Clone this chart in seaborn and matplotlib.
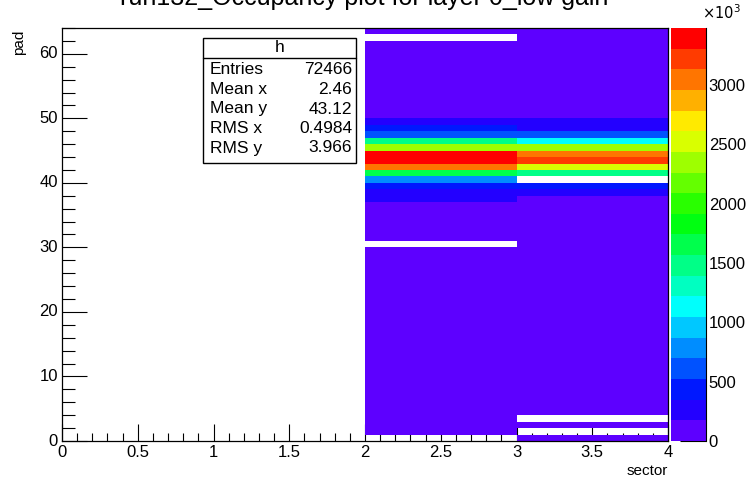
import numpy as np
import pandas as pd
import matplotlib
matplotlib.use("Agg")
import matplotlib.pyplot as plt
import seaborn as sns
from matplotlib.colors import ListedColormap, hsv_to_rgb
from matplotlib.ticker import MultipleLocator, FuncFormatter

nan = np.nan

# occupancy per pad (in units of 10^3), pads 0..63
pads = list(range(64))
sectors = [0, 1, 2, 3]
sector2 = [nan, 60, 60, 60, 60, 60, 60, 60,
           60, 60, 60, 60, 60, 60, 60, 60,
           60, 60, 60, 60, 60, 60, 60, 60,
           60, 60, 60, 60, 60, 60, nan, 60,
           60, 60, 60, 60, 60, 260, 260, 440,
           790, 1660, 3060, 3400, 3400, 2360, 1490, 610,
           440, 260, 60, 60, 60, 60, 60, 60,
           60, 60, 60, 60, 60, 60, nan, 60]
sector3 = [60, nan, 60, nan, 60, 60, 60, 60,
           60, 60, 60, 60, 60, 60, 60, 60,
           60, 60, 60, 60, 60, 60, 60, 60,
           60, 60, 60, 60, 60, 60, 60, 60,
           60, 60, 60, 60, 60, 60, 260, 440,
           nan, 1490, 2540, 3230, 3060, 2360, 1140, 610,
           260, 260, 60, 60, 60, 60, 60, 60,
           60, 60, 60, 60, 60, 60, 60, 60]
empty = [nan] * 64

stats_names = ["Entries", "Mean x", "Mean y", "RMS x", "RMS y"]
stats_values = ["72466", "2.46", "43.12", "0.4984", "3.966"]

df = pd.DataFrame({0: empty, 1: empty, 2: sector2, 3: sector3}, index=pads)

sns.set_style("ticks")
plt.rcParams['font.family'] = ['Liberation Sans', 'DejaVu Sans']
plt.rcParams['text.color'] = 'black'
plt.rcParams['axes.labelcolor'] = 'black'
plt.rcParams['xtick.color'] = 'black'
plt.rcParams['ytick.color'] = 'black'

# ROOT-like rainbow palette, 20 levels
hues = np.linspace(262, 0, 20) / 360.0
cols = hsv_to_rgb(np.stack([hues, np.ones(20), np.ones(20)], axis=1))
cmap = ListedColormap(cols)

W, H = 746, 480
fig = plt.figure(figsize=(W / 100, H / 100), dpi=100)
ax = fig.add_axes([62 / W, 1 - 441 / H, 606 / W, 413 / H])
cax = fig.add_axes([671 / W, 1 - 441 / H, 35 / W, 413 / H])

sns.heatmap(df, ax=ax, cbar_ax=cax, cmap=cmap, vmin=0, vmax=3480, linewidths=0)

ax.set_xlim(0, 4)
ax.set_ylim(0, 64)
ax.xaxis.set_major_locator(MultipleLocator(0.5))
ax.xaxis.set_minor_locator(MultipleLocator(0.1))
ax.yaxis.set_major_locator(MultipleLocator(10))
ax.yaxis.set_minor_locator(MultipleLocator(2))
fmt = FuncFormatter(lambda v, p: f"{v:g}")
ax.xaxis.set_major_formatter(fmt)
ax.yaxis.set_major_formatter(fmt)
ax.tick_params(axis='x', which='major', direction='in', length=12, width=0.8,
               labelsize=12, pad=3, rotation=0, top=False)
ax.tick_params(axis='x', which='minor', direction='in', length=6, width=0.8, top=False)
ax.tick_params(axis='y', which='major', direction='in', length=18, width=0.8,
               labelsize=12, pad=3, rotation=0, right=False)
ax.tick_params(axis='y', which='minor', direction='in', length=9, width=0.8, right=False)
for s in ax.spines.values():
    s.set_visible(True)
    s.set_color('black')
    s.set_linewidth(0.9)

ax.set_xlabel("sector", fontsize=11)
ax.set_ylabel("pad", fontsize=11)
ax.xaxis.set_label_coords(1.0, -0.055)
ax.xaxis.label.set_horizontalalignment('right')
ax.yaxis.set_label_coords(-0.06, 0.995)
ax.yaxis.label.set_horizontalalignment('right')

# colour bar
cax.yaxis.set_major_locator(MultipleLocator(500))
cax.yaxis.set_major_formatter(fmt)
cax.tick_params(axis='y', which='major', direction='in', length=19, width=0.8,
                labelsize=12, pad=2, left=False, right=True)
cax.tick_params(axis='y', which='minor', length=0)
for s in cax.spines.values():
    s.set_visible(False)
cax.spines['right'].set_visible(True)
cax.spines['right'].set_color('black')
fig.text(702 / W, 1 - 22 / H, r"$\times10^{3}$", fontsize=10.5, ha='left', va='bottom')

# title (clipped at top like the original)
fig.text(364 / W, 1 - 5 / H, "run132_Occupancy plot for layer 0_low gain",
         fontsize=18, ha='center', va='baseline')

# stats box
bx0, bx1 = 203 / W, 356 / W
by0, by1 = 1 - 163 / H, 1 - 38 / H
fig.patches.append(plt.Rectangle((bx0, by0), bx1 - bx0, by1 - by0, transform=fig.transFigure,
                                 facecolor='white', edgecolor='black', linewidth=1, zorder=5))
fig.lines.append(plt.Line2D([bx0, bx1], [1 - 58 / H, 1 - 58 / H], transform=fig.transFigure,
                            color='black', linewidth=1, zorder=6))
fig.text((bx0 + bx1) / 2, 1 - 48 / H, "h", fontsize=12.5, ha='center', va='center', zorder=7)
for i, (n, v) in enumerate(zip(stats_names, stats_values)):
    yy = 1 - (70 + 19.5 * i) / H
    fig.text(210 / W, yy, n, fontsize=12.5, ha='left', va='center', zorder=7)
    fig.text(352 / W, yy, v, fontsize=12.5, ha='right', va='center', zorder=7)

fig.savefig("out.png", dpi=100)
